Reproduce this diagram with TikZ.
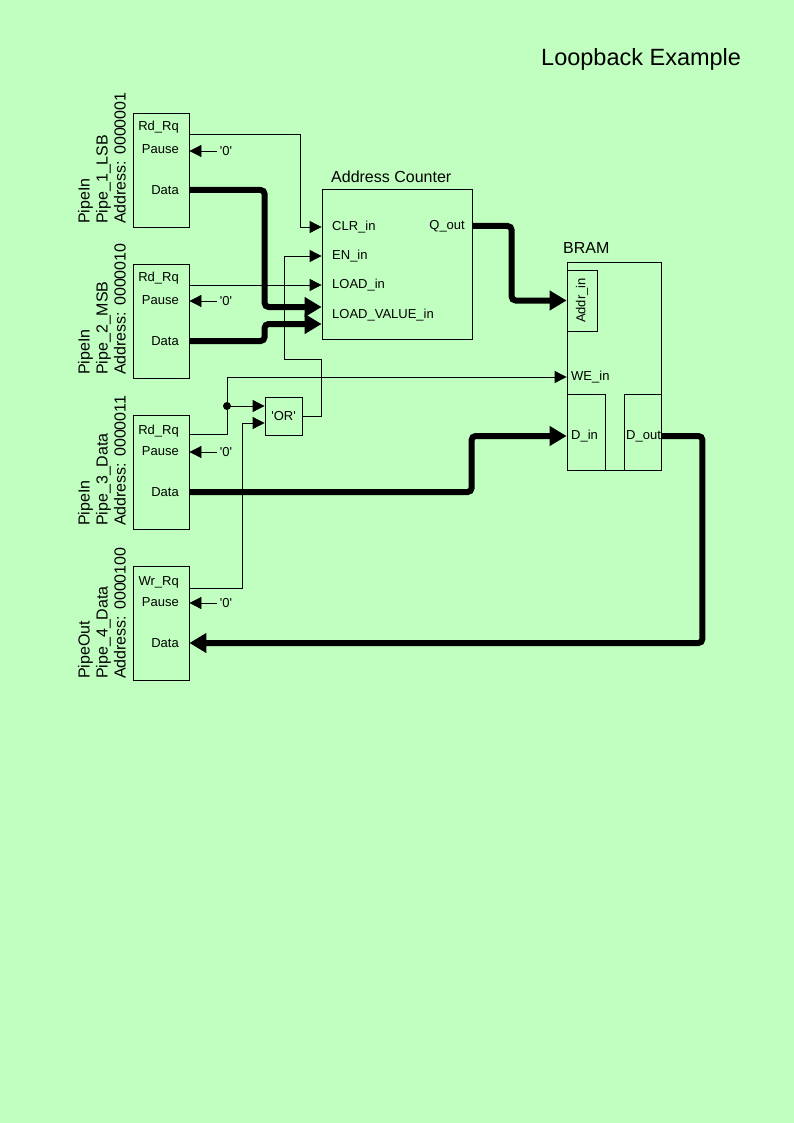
\documentclass[tikz,border=0pt]{standalone}
\usepackage{fontspec}
\setmainfont{Liberation Sans}
\usetikzlibrary{positioning,arrows.meta,calc}
\definecolor{bg}{RGB}{192,255,192}
\newcommand{\quoted}[1]{\textquotesingle#1\textquotesingle}

\begin{document}
\begin{tikzpicture}[
    x=1pt, y=-1pt,
    font=\fontsize{13}{15}\selectfont,
    pipe/.style  ={draw, line width=0.8pt, minimum width=56pt, minimum height=114pt},
    blk/.style   ={draw, line width=0.8pt, inner sep=0pt},
    plabel/.style={anchor=east, inner sep=0pt},
    port/.style  ={anchor=west, inner sep=0pt},
    zero/.style  ={inner sep=3pt},
    pname/.style ={rotate=90, anchor=south west, align=left, inner sep=0pt, font=\fontsize{16}{18}\selectfont},
    title/.style ={anchor=west, inner sep=0pt, font=\fontsize{16}{18}\selectfont},
    sig/.style   ={line width=0.8pt, -{Triangle[length=12pt,width=12pt]}},
    wire/.style  ={line width=0.8pt},
    bus/.style   ={line width=6pt, rounded corners=4pt, -{Triangle[length=17pt,width=19pt]}}
]
\fill[bg] (0,0) rectangle (794,1123);
\useasboundingbox (0,0) rectangle (794,1123);

\node[title, font=\fontsize{23.5}{26}\selectfont] (ttl) at (541,59) {Loopback Example};

% --- Pipes ---
\node[pipe] (p1) at (161,170) {};
\node[plabel] (rq1) at (179,127) {Rd\_Rq};
\node[plabel] (pa1) at (179,149) {Pause};
\node[plabel] (d1)  at (179,190) {Data};
\node[zero]   (z1)  at (226,151) {\quoted{0}};
\node[pname]  (n1)  at (126,224) {PipeIn\\Pipe\_1\_LSB\\Address: 0000001};

\node[pipe] (p2) at (161,321) {};
\node[plabel] (rq2) at (179,278) {Rd\_Rq};
\node[plabel] (pa2) at (179,300) {Pause};
\node[plabel] (d2)  at (179,341) {Data};
\node[zero]   (z2)  at (226,301) {\quoted{0}};
\node[pname]  (n2)  at (126,375) {PipeIn\\Pipe\_2\_MSB\\Address: 0000010};

\node[pipe] (p3) at (161,472) {};
\node[plabel] (rq3) at (179,431) {Rd\_Rq};
\node[plabel] (pa3) at (179,451) {Pause};
\node[plabel] (d3)  at (179,492) {Data};
\node[zero]   (z3)  at (226,452) {\quoted{0}};
\node[pname]  (n3)  at (126,526) {PipeIn\\Pipe\_3\_Data\\Address: 0000011};

\node[pipe] (p4) at (161,623) {};
\node[plabel] (wr4) at (179,582) {Wr\_Rq};
\node[plabel] (pa4) at (179,602) {Pause};
\node[plabel] (d4)  at (179,643) {Data};
\node[zero]   (z4)  at (226,603) {\quoted{0}};
\node[pname]  (n4)  at (126,679) {PipeOut\\Pipe\_4\_Data\\Address: 0000100};

% --- Address counter ---
\node[blk, minimum width=150pt, minimum height=150pt] (ac) at (397,264) {};
\node[title] (act) at (331,177) {Address Counter};
\node[port] (clr)  at (332,227) {CLR\_in};
\node[port] (en)   at (332,256) {EN\_in};
\node[port] (load) at (332,285) {LOAD\_in};
\node[port] (lval) at (332,315) {LOAD\_VALUE\_in};
\node[port, anchor=east] (qout) at (465,226) {Q\_out};

% --- BRAM ---
\node[blk, minimum width=94pt, minimum height=208pt] (bram) at (614,366) {};
\node[title] (bramt) at (563,248) {BRAM};
\node[blk, minimum width=30pt, minimum height=61pt] (addr) at (582,300.5) {};
\node[rotate=90, inner sep=0pt] (addrl) at (582,300.5) {Addr\_in};
\node[port] (we) at (571,377) {WE\_in};
\node[blk, minimum width=38pt, minimum height=76pt] (din)  at (586,432) {};
\node[blk, minimum width=37pt, minimum height=76pt] (dout) at (642.5,432) {};
\node[port] (dinl)  at (571,436) {D\_in};
\node[port] (doutl) at (626,436) {D\_out};

% --- OR gate ---
\node[blk, minimum width=37pt, minimum height=38pt] (or) at (283.5,416) {\quoted{OR}};
\node[circle, fill, inner sep=0pt, minimum size=8pt] (dot) at (227,406) {};

% --- Pause ties ---
\draw[sig] (z1.west) -- (p1.east |- z1);
\draw[sig] (z2.west) -- (p2.east |- z2);
\draw[sig] (z3.west) -- (p3.east |- z3);
\draw[sig] (z4.west) -- (p4.east |- z4);

% --- Control signals ---
\draw[sig] ($(p1.north east)+(0,22)$) -| ($(ac.west |- clr)+(-21,0)$) -- (ac.west |- clr);
\draw[sig] (p2.east |- load) -- (ac.west |- load);
\draw[sig] (or.east) -| ($(or.east)+(19,-57)$) -| ($(ac.west |- en)+(-37,0)$) -- (ac.west |- en);
\draw[wire] ($(p3.north east)+(0,20)$) -| (dot);
\draw[sig] (dot) -- (or.west |- dot);
\draw[sig] (dot) |- (bram.west |- we);
\draw[sig] ($(p4.north east)+(0,23)$) -| ($(or.west)+(-22,7)$) -- ($(or.west)+(0,7)$);

% --- Data buses ---
\coordinate (lv1) at ($(ac.west)+(0,43)$);
\coordinate (lv2) at ($(ac.west)+(0,60)$);
\draw[bus] (p1.east |- d1) -| ($(lv1)+(-57,0)$) -- (lv1);
\draw[bus] (p2.east |- d2) -| ($(lv2)+(-57,0)$) -- (lv2);
\draw[bus] (ac.east |- qout) -| ($(addr.west)+(-55,0)$) -- (addr.west);
\draw[bus] (p3.east |- d3) -| ($(din.west |- dinl)+(-95,0)$) -- (din.west |- dinl);
\draw[bus] (dout.east |- doutl) -- ++(41,0) |- (p4.east |- d4);

\end{tikzpicture}
\end{document}
